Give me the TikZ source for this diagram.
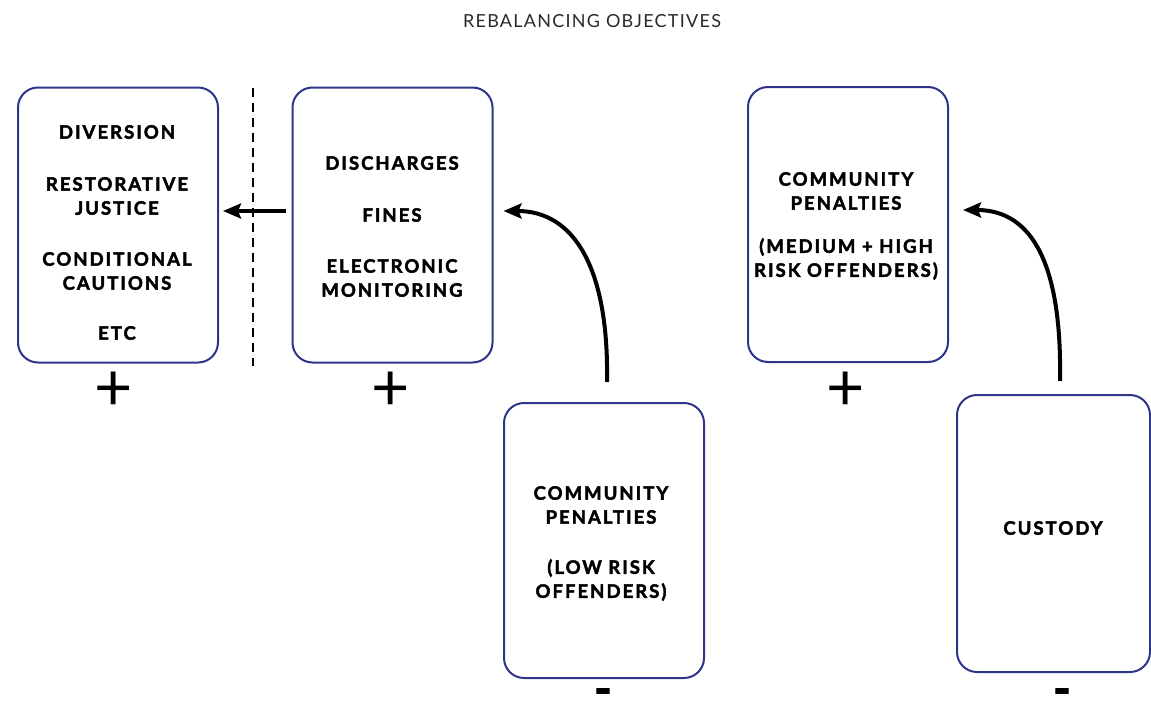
\documentclass[tikz,border=0pt]{standalone}
\usepackage{fontspec}
\setmainfont{Lato}
\newfontfamily\boxfont{Lato}[LetterSpace=11, BoldFeatures={FakeBold=2.4}]
\newfontfamily\titlefont{Lato}[LetterSpace=7]
\newfontfamily\signfont{Lato}[BoldFeatures={FakeBold=2}]
\usetikzlibrary{arrows.meta,calc}
\definecolor{boxblue}{HTML}{2E3588}
\definecolor{titlegray}{HTML}{2A2A2A}
\begin{document}
\begin{tikzpicture}[x=1pt,y=-1pt,
  panel/.style={draw=boxblue, line width=2pt, rounded corners=20pt,
    minimum width=200pt, minimum height=275pt, inner sep=0pt},
  boxtext/.style={align=center, inner sep=0pt, text=black,
    font=\boxfont\bfseries\fontsize{18.5}{24}\selectfont},
  sign/.style={inner sep=0pt, font=\signfont\fontsize{66}{66}\selectfont},
  minus/.style={inner sep=0pt, font=\signfont\bfseries\fontsize{48}{48}\selectfont},
  flow/.style={line width=4pt, -{Stealth[length=18pt,width=15pt,inset=3pt]}},
]
\useasboundingbox (0,0) rectangle (1151,704);

\node[font=\titlefont\fontsize{18}{20}\selectfont, text=titlegray] (title) at (592,21) {REBALANCING OBJECTIVES};

\node[panel] (b1) at (118,225) {};
\node[panel] (b2) at (392.5,225) {};
\node[panel] (b3) at (604,540.5) {};
\node[panel] (b4) at (848,224.5) {};
\node[panel, minimum width=193pt, minimum height=277pt] (b5) at (1053.5,533.5) {};

\node[boxtext] (t1a) at (117,132) {DIVERSION};
\node[boxtext] (t1b) at (117,196) {RESTORATIVE\\JUSTICE};
\node[boxtext] (t1c) at (117,271) {CONDITIONAL\\CAUTIONS};
\node[boxtext] (t1d) at (117,333) {ETC};

\node[boxtext] (t2a) at (392,163) {DISCHARGES};
\node[boxtext] (t2b) at (392,215) {FINES};
\node[boxtext] (t2c) at (392,278) {ELECTRONIC\\MONITORING};

\node[boxtext] (t3a) at (601,505) {COMMUNITY\\PENALTIES};
\node[boxtext] (t3b) at (601,580) {(LOW RISK\\OFFENDERS)};

\node[boxtext] (t4a) at (846,191) {COMMUNITY\\PENALTIES};
\node[boxtext] (t4b) at (846,259) {(MEDIUM + HIGH\\RISK OFFENDERS)};

\node[boxtext] (t5) at (1053,528) {CUSTODY};

\node[sign] (p1) at (114,391) {+};
\node[sign] (p2) at (391,391) {+};
\node[sign] (p4) at (846,391) {+};
\node[minus] (m3) at (603,697) {-};
\node[minus] (m5) at (1062,697) {-};

\coordinate (d1) at (253,88);
\coordinate (d2) at (253,366);
\draw[line width=1.2pt, dash pattern=on 9pt off 6pt] (d1) -- (d2);

\coordinate (a1s) at ($(b2.west)+(-6,-14)$);
\coordinate (a1e) at ($(b1.east)+(4,-14)$);
\draw[flow] (a1s) -- (a1e);

\coordinate (a2s) at ($(b3.north)+(3,-20)$);
\coordinate (a2e) at ($(b2.east)+(10,-14)$);
\draw[flow] (a2s) .. controls ($(a2s)+(2,-115)$) and ($(a2e)+(70,0)$) .. (a2e);

\coordinate (a3s) at ($(b5.north)+(6.5,-13)$);
\coordinate (a3e) at ($(b4.east)+(14,-14.5)$);
\draw[flow] (a3s) .. controls ($(a3s)+(2,-115)$) and ($(a3e)+(70,0)$) .. (a3e);
\end{tikzpicture}
\end{document}
